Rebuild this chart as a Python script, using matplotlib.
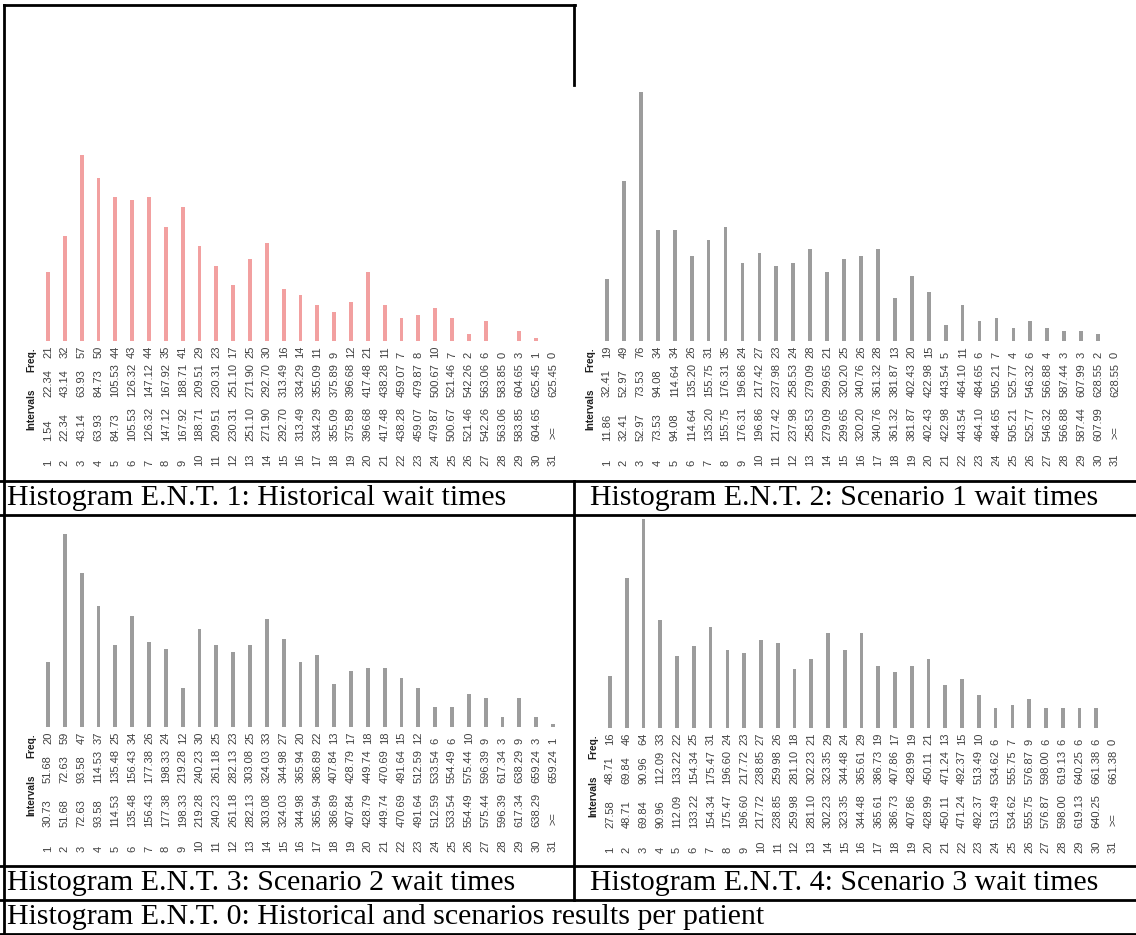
import matplotlib.pyplot as plt
from matplotlib.lines import Line2D

# frequencies per interval (31 intervals, the last one is ">=")
freq1 = [21, 32, 57, 50, 44, 43, 44, 35, 41, 29, 23, 17, 25, 30, 16, 14,
         11, 9, 12, 21, 11, 7, 8, 10, 7, 2, 6, 0, 3, 1, 0]
freq2 = [19, 49, 76, 34, 34, 26, 31, 35, 24, 27, 23, 24, 28, 21, 25, 26,
         28, 13, 20, 15, 5, 11, 6, 7, 4, 6, 4, 3, 3, 2, 0]
freq3 = [20, 59, 47, 37, 25, 34, 26, 24, 12, 30, 25, 23, 25, 33, 27, 20,
         22, 13, 17, 18, 18, 15, 12, 6, 6, 10, 9, 3, 9, 3, 1]
freq4 = [16, 46, 64, 33, 22, 25, 31, 24, 23, 27, 26, 18, 21, 29, 24, 29,
         19, 17, 19, 21, 13, 15, 10, 6, 7, 9, 6, 6, 6, 6, 0]

# interval bounds
edges1 = [1.54, 22.34, 43.14, 63.93, 84.73, 105.53, 126.32, 147.12, 167.92,
          188.71, 209.51, 230.31, 251.10, 271.90, 292.70, 313.49, 334.29,
          355.09, 375.89, 396.68, 417.48, 438.28, 459.07, 479.87, 500.67,
          521.46, 542.26, 563.06, 583.85, 604.65, 625.45]
edges2 = [11.86, 32.41, 52.97, 73.53, 94.08, 114.64, 135.20, 155.75, 176.31,
          196.86, 217.42, 237.98, 258.53, 279.09, 299.65, 320.20, 340.76,
          361.32, 381.87, 402.43, 422.98, 443.54, 464.10, 484.65, 505.21,
          525.77, 546.32, 566.88, 587.44, 607.99, 628.55]
edges3 = [30.73, 51.68, 72.63, 93.58, 114.53, 135.48, 156.43, 177.38, 198.33,
          219.28, 240.23, 261.18, 282.13, 303.08, 324.03, 344.98, 365.94,
          386.89, 407.84, 428.79, 449.74, 470.69, 491.64, 512.59, 533.54,
          554.49, 575.44, 596.39, 617.34, 638.29, 659.24]
edges4 = [27.58, 48.71, 69.84, 90.96, 112.09, 133.22, 154.34, 175.47, 196.60,
          217.72, 238.85, 259.98, 281.10, 302.23, 323.35, 344.48, 365.61,
          386.73, 407.86, 428.99, 450.11, 471.24, 492.37, 513.49, 534.62,
          555.75, 576.87, 598.00, 619.13, 640.25, 661.38]

captions = ["Histogram E.N.T. 1: Historical wait times",
            "Histogram E.N.T. 2: Scenario 1 wait times",
            "Histogram E.N.T. 3: Scenario 2 wait times",
            "Histogram E.N.T. 4: Scenario 3 wait times",
            "Histogram E.N.T. 0: Historical and scenarios results per patient"]

W, H = 1136, 935
PPC = 3.27  # pixels per count
fig = plt.figure(figsize=(W / 100, H / 100), dpi=100)
fig.patch.set_facecolor('white')


def panel_axes(x1, x31, base):
    sp = (x31 - x1) / 30
    left, right = x1 - sp / 2, x31 + sp / 2
    top = base - 80 * PPC
    ax = fig.add_axes([left / W, (H - base) / H, (right - left) / W, (base - top) / H])
    ax.set_xlim(0.5, 31.5)
    ax.set_ylim(0, 80)
    ax.axis('off')
    return ax


def draw_panel(ax, freq, edges, color):
    n = len(freq)
    idx = list(range(1, n + 1))
    ax.bar(idx, freq, width=0.22, color=color, linewidth=0)

    def yp(p):
        return -p / PPC

    kw = dict(rotation=90, ha='center', va='bottom', fontsize=8,
              family='Liberation Sans', color='#404040', clip_on=False)
    for i in idx:
        ax.text(i, yp(17), str(freq[i - 1]), **kw)
        ax.text(i, yp(125), str(i), **kw)
        if i < n:
            ax.text(i, yp(100), f"{edges[i - 1]:.2f}", **kw)
            ax.text(i, yp(56), f"{edges[i]:.2f}", **kw)
        else:
            ax.text(i, yp(98), ">=", **kw)
            ax.text(i, yp(56), f"{edges[i - 1]:.2f}", **kw)
    hkw = dict(kw, color='#202020', fontweight='bold', fontsize=7.3)
    ax.text(0, yp(89), "Intervals", **hkw)
    ax.text(0, yp(31), "Freq.", **hkw)


ax1 = panel_axes(48, 553, 341)
draw_panel(ax1, freq1, edges1, '#f2a0a0')
ax2 = panel_axes(607, 1115, 341)
draw_panel(ax2, freq2, edges2, '#9c9c9c')
ax3 = panel_axes(48, 553, 727)
draw_panel(ax3, freq3, edges3, '#9c9c9c')
ax4 = panel_axes(610, 1113, 728)
draw_panel(ax4, freq4, edges4, '#9c9c9c')


def hline(y, x0=0, x1=W, lw=2):
    fig.add_artist(Line2D([x0 / W, x1 / W], [1 - y / H, 1 - y / H],
                          transform=fig.transFigure, color='black', lw=lw))


def vline(x, y0, y1, lw=2):
    fig.add_artist(Line2D([x / W, x / W], [1 - y0 / H, 1 - y1 / H],
                          transform=fig.transFigure, color='black', lw=lw))


hline(5, 4, 575)
hline(481)
hline(515)
hline(866)
hline(900)
hline(934)
vline(4, 5, 935)
vline(574, 5, 85)
vline(574, 481, 900)

cap_pos = [(7, 498), (590, 498), (7, 883), (590, 883), (7, 917)]
for (cx, cy), text in zip(cap_pos, captions):
    fig.text(cx / W, 1 - cy / H, text, fontsize=21.5, family='Liberation Serif',
             va='center', ha='left')

fig.savefig('out.png', dpi=100)
